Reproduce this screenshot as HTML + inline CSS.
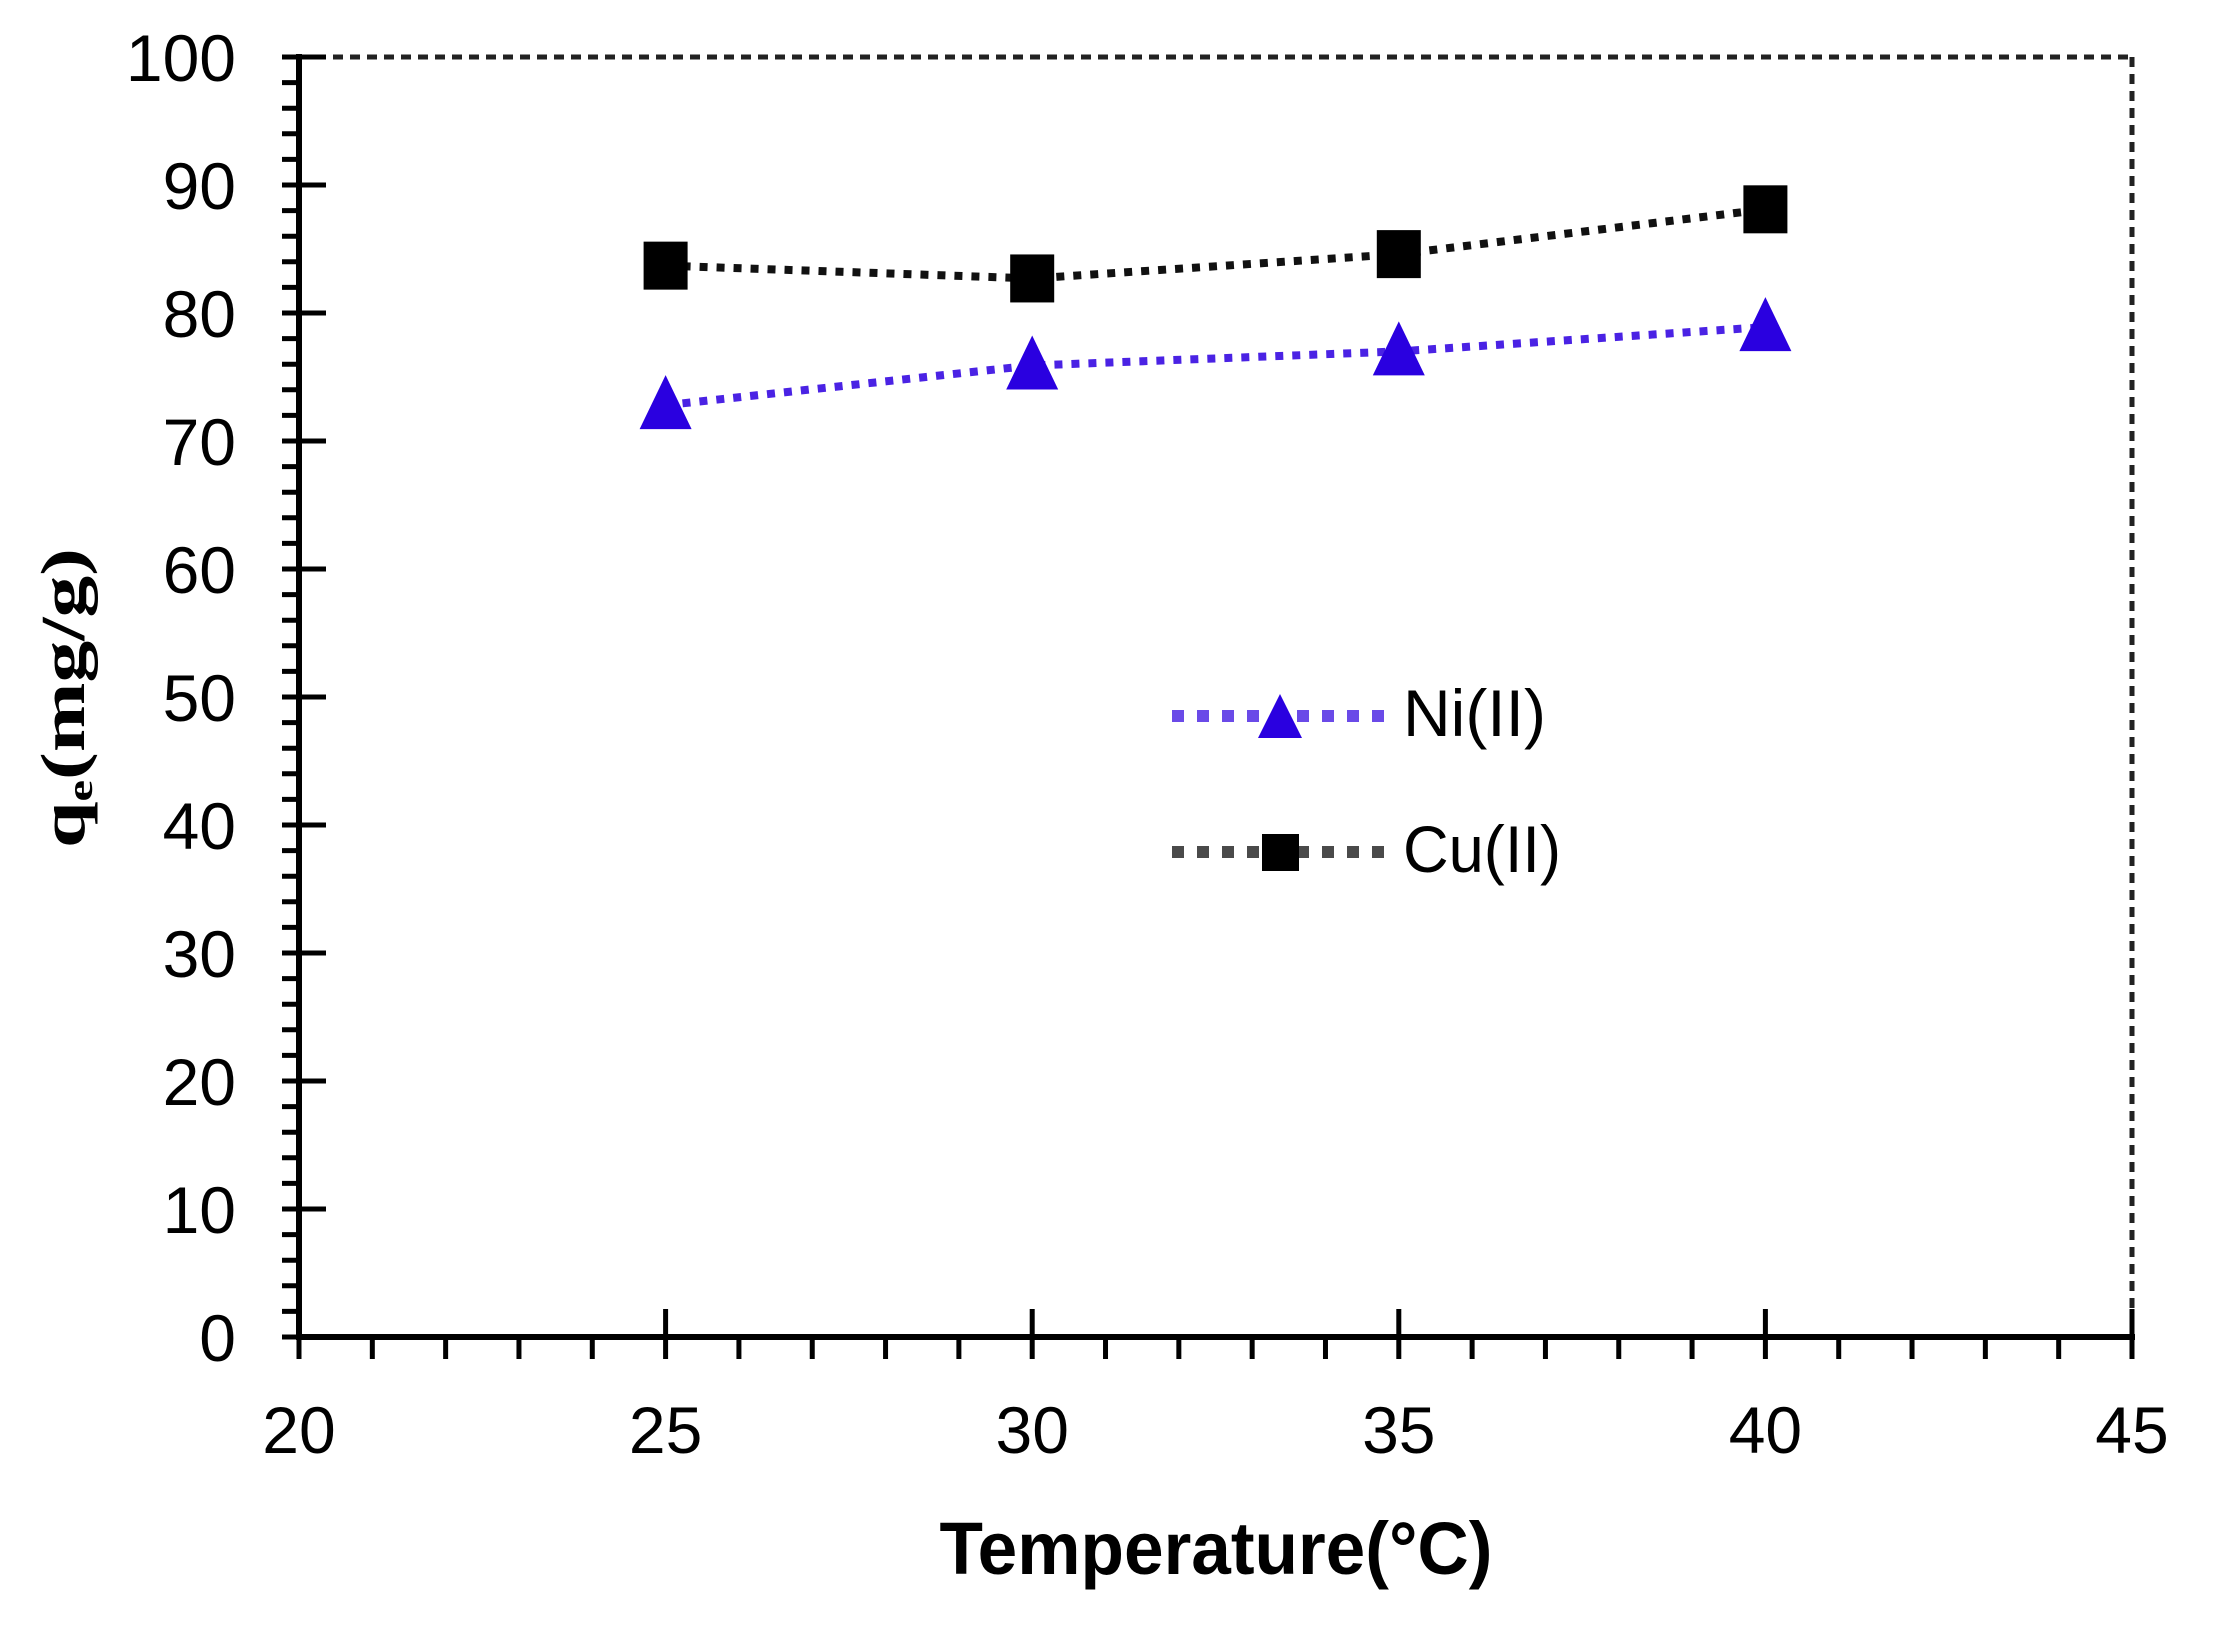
<!DOCTYPE html>
<html><head><meta charset="utf-8"><style>
html,body{margin:0;padding:0;background:#fff;}
svg{display:block;}
</style></head><body>
<svg id="chart" width="2234" height="1633" viewBox="0 0 2234 1633" xmlns="http://www.w3.org/2000/svg">
<g id="axes"></g>
<g id="series"></g>
<g id="legend">
  <line x1="1172" y1="716" x2="1388" y2="716" stroke="#6a4ae8" stroke-width="12" stroke-dasharray="12 13"/>
  <polygon points="1280,694 1258,738 1302,738" fill="#2a00e0"/>
  <text x="1403" y="736" font-family="Liberation Sans, sans-serif" font-size="66" fill="#000">Ni(II)</text>
  <line x1="1172" y1="852" x2="1388" y2="852" stroke="#4a4a4a" stroke-width="12" stroke-dasharray="12 13"/>
  <rect x="1262" y="834" width="37" height="37" fill="#000"/>
  <text x="1403" y="872" font-family="Liberation Sans, sans-serif" font-size="66" textLength="158" lengthAdjust="spacingAndGlyphs" fill="#000">Cu(II)</text>
</g>
<text x="1216" y="1574" text-anchor="middle" font-family="Liberation Sans, sans-serif" font-weight="bold" font-size="74" textLength="553" lengthAdjust="spacingAndGlyphs">Temperature(°C)</text>
<text transform="translate(84,698) rotate(-90)" text-anchor="middle" font-family="Liberation Serif, serif" font-weight="bold" font-size="62" textLength="300" lengthAdjust="spacingAndGlyphs">q<tspan font-size="36" dy="8">e</tspan><tspan dy="-8">(mg/g)</tspan></text>
</svg>
<script>
const xCategories = [25, 30, 35, 40];
const niValues = [72.8, 75.9, 77.0, 78.9];
const cuValues = [83.7, 82.7, 84.6, 88.1];
const xTickLabels = ["20","25","30","35","40","45"];
const yTickLabels = ["0","10","20","30","40","50","60","70","80","90","100"];

const NS = "http://www.w3.org/2000/svg";
const L = 299, R = 2132, T = 57, B = 1337;
const xMin = 20, xMax = 45, yMin = 0, yMax = 100;
function xs(v){ return L + (v - xMin) / (xMax - xMin) * (R - L); }
function ys(v){ return B - (v - yMin) / (yMax - yMin) * (B - T); }
function mk(tag, attrs, parent){
  const e = document.createElementNS(NS, tag);
  for (const k in attrs) e.setAttribute(k, attrs[k]);
  parent.appendChild(e);
  return e;
}
const axes = document.getElementById('axes');
const series = document.getElementById('series');

let e;
e = mk('line', {x1:L, y1:T, x2:R, y2:T, stroke:'#222', 'stroke-width':5, 'stroke-dasharray':'10 7'}, axes);


e = mk('line', {x1:R, y1:T, x2:R, y2:B, stroke:'#222', 'stroke-width':5, 'stroke-dasharray':'10 7'}, axes);


e = mk('line', {x1:L, y1:T-3, x2:L, y2:B+3, stroke:'#000', 'stroke-width':6}, axes);


e = mk('line', {x1:L-3, y1:B, x2:R+3, y2:B, stroke:'#000', 'stroke-width':6}, axes);



for (let v = 0; v <= 100; v += 2) {
  const y = ys(v);
  const major = v % 10 === 0;
  e = mk('line', {x1:L-17, y1:y, x2: major ? L+27 : L, y2:y, stroke:'#000', 'stroke-width':5}, axes);
  
  
}
yTickLabels.forEach(lab => {
  const v = Number(lab);
  e = mk('text', {x:236, y:ys(v)+24, 'text-anchor':'end', 'font-family':'Liberation Sans, sans-serif', 'font-size':66, fill:'#000'}, axes);
  e.textContent = lab;
  
  
});
for (let v = 20; v <= 45; v += 1) {
  const x = xs(v);
  const major = v % 5 === 0;
  e = mk('line', {x1:x, y1: major ? B-28 : B, x2:x, y2:B+22, stroke:'#000', 'stroke-width':5}, axes);
  
  
}
xTickLabels.forEach(lab => {
  const v = Number(lab);
  e = mk('text', {x:xs(v), y:1453, 'text-anchor':'middle', 'font-family':'Liberation Sans, sans-serif', 'font-size':66, fill:'#000'}, axes);
  e.textContent = lab;
  
  
});

const niPts = xCategories.map((x,i) => xs(x)+','+ys(niValues[i])).join(' ');
e = mk('polyline', {points:niPts, fill:'none', stroke:'#4a22e4', 'stroke-width':8, 'stroke-dasharray':'8 9'}, series);


const cuPts = xCategories.map((x,i) => xs(x)+','+ys(cuValues[i])).join(' ');
e = mk('polyline', {points:cuPts, fill:'none', stroke:'#111', 'stroke-width':8, 'stroke-dasharray':'8 9'}, series);



xCategories.forEach((x, i) => {
  const cx = xs(x), cy = ys(cuValues[i]);
  const r = mk('rect', {x:cx-22, y:cy-24, width:44, height:48, fill:'#000'}, series);
  
  
});
xCategories.forEach((x, i) => {
  const cx = xs(x), cy = ys(niValues[i]);
  const p = mk('polygon', {points:`${cx},${cy-30} ${cx-26},${cy+24} ${cx+26},${cy+24}`, fill:'#2a00e0'}, series);
  
  
});
</script>
</body></html>
